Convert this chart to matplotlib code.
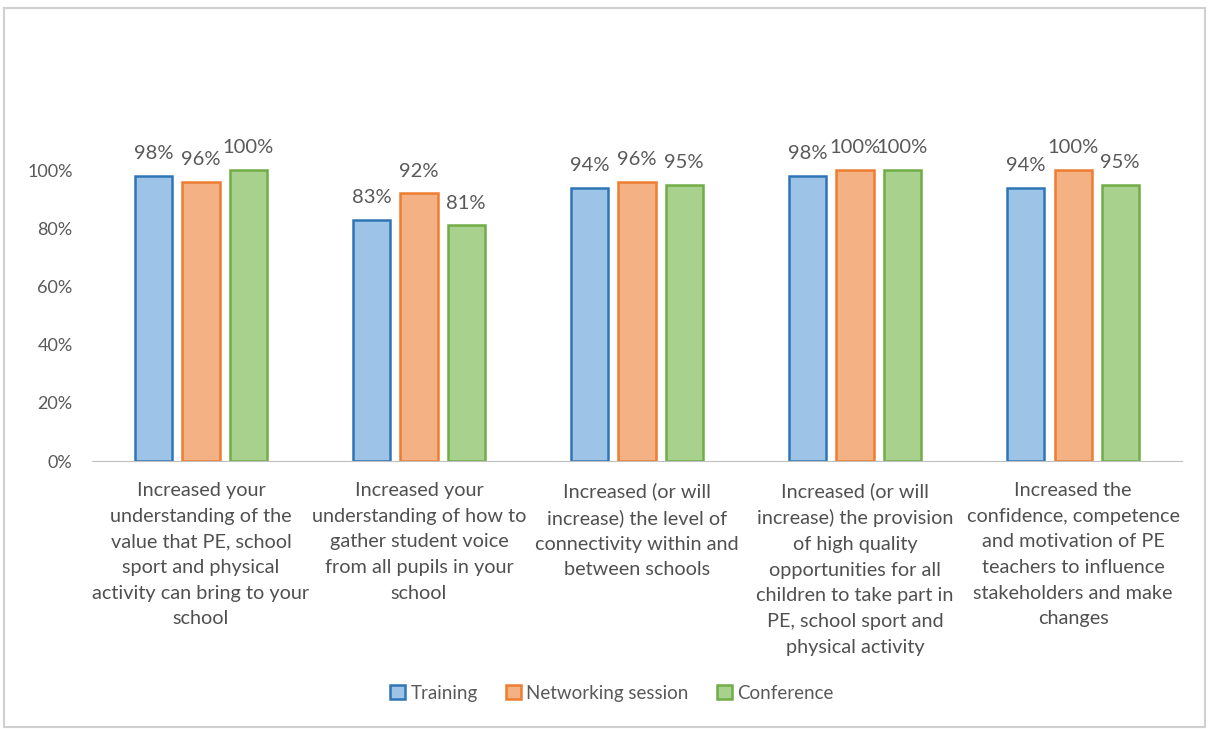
import matplotlib.pyplot as plt
import numpy as np
from matplotlib.patches import Rectangle

categories = [
    "Increased your\nunderstanding of the\nvalue that PE, school\nsport and physical\nactivity can bring to your\nschool",
    "Increased your\nunderstanding of how to\ngather student voice\nfrom all pupils in your\nschool",
    "Increased (or will\nincrease) the level of\nconnectivity within and\nbetween schools",
    "Increased (or will\nincrease) the provision\nof high quality\nopportunities for all\nchildren to take part in\nPE, school sport and\nphysical activity",
    "Increased the\nconfidence, competence\nand motivation of PE\nteachers to influence\nstakeholders and make\nchanges",
]
series = ["Training", "Networking session", "Conference"]
training = [98, 83, 94, 98, 94]
networking = [96, 92, 96, 100, 100]
conference = [100, 81, 95, 100, 95]

fills = ["#9DC3E6", "#F4B183", "#A9D18E"]
edges = ["#2E75B6", "#ED7D31", "#70AD47"]
grey = "#595959"

plt.rcParams["font.family"] = ["Lato", "DejaVu Sans"]

fig = plt.figure(figsize=(12.09, 7.29), dpi=100)
ax = fig.add_axes([0.0761, 0.3676, 0.9016, 0.4787])

x = np.arange(len(categories))
step = 0.216
width = 0.17
for i, (name, vals) in enumerate(zip(series, [training, networking, conference])):
    pos = x + (i - 1) * step
    ax.bar(pos, vals, width, color=fills[i], edgecolor=edges[i], linewidth=1.8, label=name)
    for p, v in zip(pos, vals):
        ax.text(p, v + 4.8, f"{v}%", ha="center", va="bottom", fontsize=14.5, color=grey)

ax.set_xlim(-0.5, 4.5)
ax.set_ylim(0, 120)
ax.set_yticks([0, 20, 40, 60, 80, 100])
ax.set_yticklabels([f"{t}%" for t in [0, 20, 40, 60, 80, 100]], fontsize=13, color=grey)
ax.tick_params(axis="y", length=0, pad=14)
ax.set_xticks(x)
ax.set_xticklabels(categories, fontsize=14.3, color="#505050", va="top", linespacing=1.62)
ax.tick_params(axis="x", length=0, pad=15)
for s in ["top", "right", "left"]:
    ax.spines[s].set_visible(False)
ax.spines["bottom"].set_color("#BFBFBF")

handles, labels = ax.get_legend_handles_labels()
fig.legend(handles, labels, loc="center", bbox_to_anchor=(0.506, 0.049), ncol=3,
           frameon=False, fontsize=13.5, handlelength=0.8, handleheight=0.8,
           columnspacing=1.5, handletextpad=0.3, labelcolor=grey)

fig.patches.append(Rectangle((0.003, 0.003), 0.994, 0.986, transform=fig.transFigure,
                             fill=False, edgecolor="#D0D0D0", linewidth=1.5))

fig.savefig("out.png", dpi=100)
